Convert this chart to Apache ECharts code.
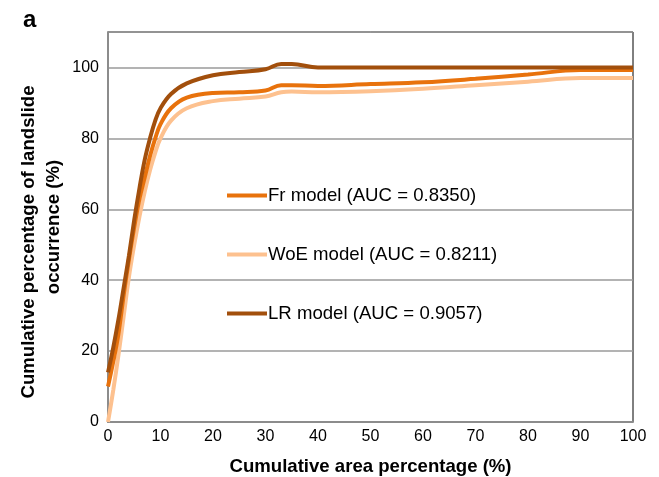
<!DOCTYPE html>
<html>
<head>
<meta charset="utf-8">
<script src="https://cdn.jsdelivr.net/npm/echarts@6/dist/echarts.min.js"></script>
<style>
  html, body { margin: 0; padding: 0; background: #fff; }
  #main { width: 659px; height: 477px; }
</style>
</head>
<body>
<div id="main"></div>
<script>
// cumulative area percentage (%)
var areaPct = [0, 1, 2, 3, 4, 5, 6, 7, 8, 9, 10, 12, 15, 20, 25, 30, 33, 35, 40, 50, 60, 70, 80, 90, 100];
// cumulative percentage of landslide occurrence (%)
var frVals  = [10, 17, 25, 36, 46, 55, 63, 69, 75, 80, 84, 88.5, 91.5, 92.8, 93, 93.5, 95, 95, 94.8, 95.3, 95.8, 96.8, 98, 99.3, 99.3];
var woeVals = [0, 9, 19, 30, 41, 50, 58, 65, 71, 76, 80, 85, 88.5, 90.5, 91.2, 91.8, 93, 93.2, 93, 93.3, 94, 95, 96, 97, 97];
var lrVals  = [14, 21, 29, 38, 47, 57, 66, 74, 80, 85, 88.5, 92.5, 95.5, 97.8, 98.7, 99.5, 101, 101, 100, 100, 100, 100, 100, 100, 100];
var seriesNames = ['Fr model (AUC = 0.8350)', 'WoE model (AUC = 0.8211)', 'LR model (AUC = 0.9057)'];
var yTitleLines = ['Cumulative percentage of landslide', 'occurrence (%)'];
var colors = ['#e8720c', '#fdc18f', '#a24f0c'];

function pairs(vals) {
    return areaPct.map(function (x, i) { return [x, vals[i]]; });
}

var chart = echarts.init(document.getElementById('main'));
var font = 'Liberation Sans, Arial, Helvetica, sans-serif';

function lineSeries(idx, vals, z) {
    return {
        name: seriesNames[idx],
        type: 'line',
        data: pairs(vals),
        smooth: 0.4,
        showSymbol: false,
        lineStyle: { width: 4, color: colors[idx] },
        itemStyle: { color: colors[idx] },
        z: z
    };
}

var option = {
    animation: false,
    textStyle: { fontFamily: font },
    title: {
        text: 'a',
        left: 18,
        top: 3,
        textStyle: { fontSize: 24, fontWeight: 'bold', color: '#000', fontFamily: font }
    },
    // y title as two rotated lines, placed like the original
    graphic: [
        {
            type: 'text', x: 29, y: 242, rotation: Math.PI / 2,
            style: { text: yTitleLines[0], font: 'bold 18.6px ' + font, fill: '#000', textAlign: 'center', textVerticalAlign: 'middle' }
        },
        {
            type: 'text', x: 54, y: 227, rotation: Math.PI / 2,
            style: { text: yTitleLines[1], font: 'bold 18.6px ' + font, fill: '#000', textAlign: 'center', textVerticalAlign: 'middle' }
        }
    ],
    grid: {
        left: 108, right: 26, top: 32, bottom: 55,
        outerBoundsMode: 'none',
        show: true,
        borderColor: '#000',
        borderWidth: 1
    },
    legend: {
        orient: 'vertical',
        left: 222,
        top: 181,
        itemWidth: 40,
        itemHeight: 4,
        itemGap: 40,
        icon: 'rect',
        textStyle: { fontSize: 18.6, color: '#000', fontFamily: font, padding: [0, 0, 0, -4] },
        data: seriesNames
    },
    xAxis: {
        type: 'value',
        min: 0, max: 100, interval: 10,
        name: 'Cumulative area percentage (%)',
        nameLocation: 'middle',
        nameGap: 35,
        nameTextStyle: { fontSize: 18.6, fontWeight: 'bold', color: '#000' },
        axisLine: { lineStyle: { color: '#8c8c8c', width: 2 } },
        axisTick: { show: false },
        axisLabel: { fontSize: 16, color: '#000', margin: 7 },
        splitLine: { show: false }
    },
    yAxis: {
        type: 'value',
        min: 0, max: 110, interval: 20,
        axisLine: { show: true, lineStyle: { color: '#8c8c8c', width: 2 } },
        axisTick: { show: false },
        axisLabel: { fontSize: 16, color: '#000', margin: 9, showMaxLabel: false },
        splitLine: { show: true, lineStyle: { color: '#9a9a9a', width: 1.5 } }
    },
    series: [
        lineSeries(0, frVals, 3),
        lineSeries(1, woeVals, 2),
        lineSeries(2, lrVals, 4)
    ]
};

chart.setOption(option);
</script>
</body>
</html>
